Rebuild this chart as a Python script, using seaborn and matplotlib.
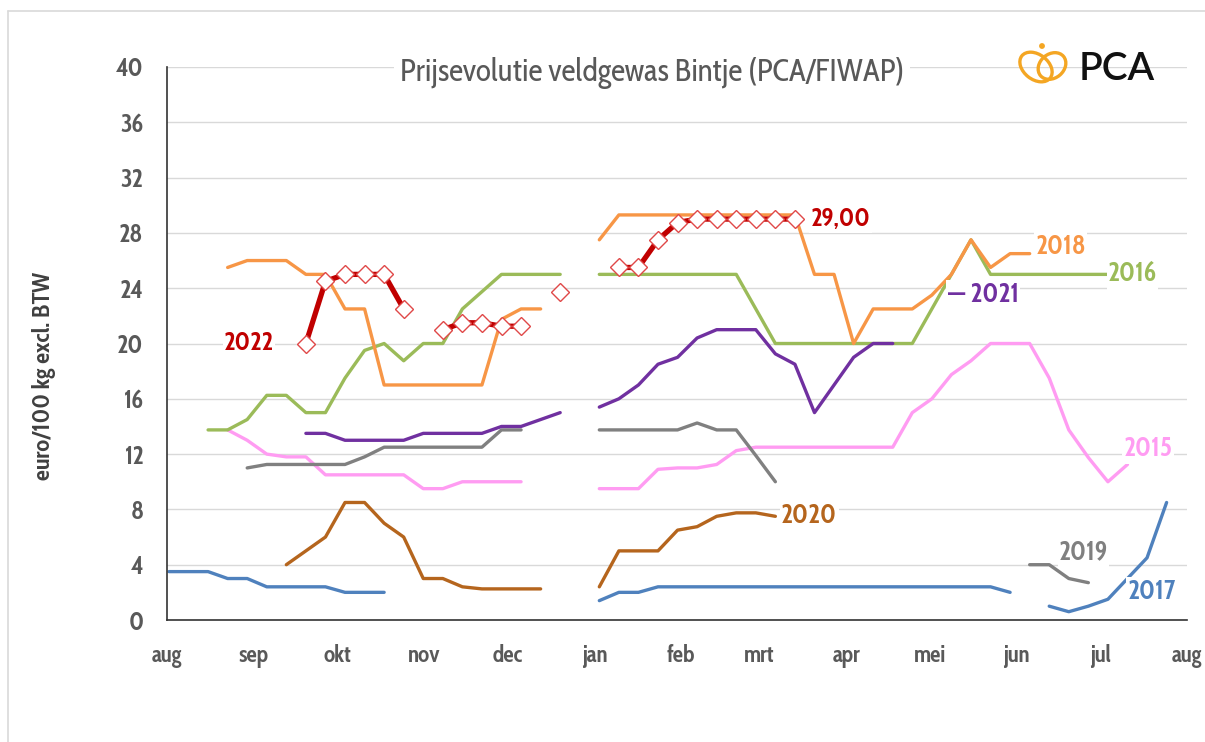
import numpy as np
import pandas as pd
import matplotlib
matplotlib.use("Agg")
import matplotlib.pyplot as plt
import seaborn as sns
from matplotlib.patches import Ellipse, Circle
from matplotlib.lines import Line2D
from matplotlib import font_manager as fm

N = None
months = ['aug', 'sep', 'okt', 'nov', 'dec', 'jan', 'feb', 'mrt', 'apr', 'mei', 'jun', 'jul', 'aug']
month_days = [31, 30, 31, 30, 31, 31, 28, 31, 30, 31, 30, 31]
yticks = list(range(0, 41, 4))

# weekly prices (week index from 1 August), None = no quotation
start_2015 = 3
p2015 = [13.75, 13, 12, 11.8, 11.8, 10.5, 10.5, 10.5, 10.5, 10.5, 9.5, 9.5, 10, 10, 10, 10,
         N, N, N, 9.5, 9.5, 9.5, 10.9, 11, 11, 11.25, 12.25, 12.5, 12.5, 12.5, 12.5, 12.5, 12.5,
         12.5, 12.5, 15, 16, 17.75, 18.75, 20, 20, 20, 17.5, 13.75, 11.75, 10, 11.25]
start_2016 = 2
p2016 = [13.75, 13.75, 14.5, 16.25, 16.25, 15, 15, 17.5, 19.5, 20, 18.75, 20, 20, 22.5, 23.75,
         25, 25, 25, 25, N, 25, 25, 25, 25, 25, 25, 25, 25, 22.5, 20, 20, 20, 20, 20, 20, 20, 20,
         22.5, 25, 27.5, 25, 25, 25, 25, 25, 25, 25]
start_2017 = 0
p2017 = [3.5, 3.5, 3.5, 3.0, 3.0, 2.4, 2.4, 2.4, 2.4, 2.0, 2.0, 2.0,
         N, N, N, N, N, N, N, N, N, N,
         1.4, 2.0, 2.0, 2.4, 2.4, 2.4, 2.4, 2.4, 2.4, 2.4, 2.4, 2.4, 2.4, 2.4, 2.4, 2.4, 2.4,
         2.4, 2.4, 2.4, 2.4, 2.0, N, 1.0, 0.6, 1.0, 1.5, 3.0, 4.5, 8.5]
start_2018 = 3
p2018 = [25.5, 26, 26, 26, 25, 25, 22.5, 22.5, 17, 17, 17, 17, 17, 17, 21.75, 22.5, 22.5, N, N,
         27.5, 29.3, 29.3, 29.3, 29.3, 29.3, 29.3, 29.3, 29.3, 29.3, 29.3, 25, 25, 20, 22.5, 22.5,
         22.5, 23.5, 25, 27.5, 25.5, 26.5, 26.5]
start_2019 = 4
p2019 = [11, 11.25, 11.25, 11.25, 11.25, 11.25, 11.8, 12.5, 12.5, 12.5, 12.5, 12.5, 12.5, 13.75,
         13.75, N, N, N, 13.75, 13.75, 13.75, 13.75, 13.75, 14.25, 13.75, 13.75, 11.9, 10,
         N, N, N, N, N, N, N, N, N, N, N, N, 4.0, 4.0, 3.0, 2.7]
start_2020 = 6
p2020 = [4, 5, 6, 8.5, 8.5, 7, 6, 3, 3, 2.4, 2.25, 2.25, 2.25, 2.25, N, N,
         2.4, 5, 5, 5, 6.5, 6.75, 7.5, 7.75, 7.75, 7.5]
start_2021 = 7
p2021 = [13.5, 13.5, 13, 13, 13, 13, 13.5, 13.5, 13.5, 13.5, 14, 14, 14.5, 15, N,
         15.4, 16, 17, 18.5, 19, 20.4, 21, 21, 21, 19.25, 18.5, 15, 17, 19, 20, 20]
start_2022 = 7
p2022 = [20, 24.5, 25, 25, 25, 22.5, N, 21, 21.5, 21.5, 21.25, 21.25, N, 23.75, N, N,
         25.5, 25.5, 27.5, 28.75, 29, 29, 29, 29, 29, 29]

series = {
    '2015': (start_2015, p2015), '2016': (start_2016, p2016), '2017': (start_2017, p2017),
    '2018': (start_2018, p2018), '2019': (start_2019, p2019), '2020': (start_2020, p2020),
    '2021': (start_2021, p2021), '2022': (start_2022, p2022),
}
palette = {'2015': '#FF9CF2', '2016': '#9BBB59', '2017': '#4F81BD', '2018': '#F79646',
           '2019': '#808080', '2020': '#B5651D', '2021': '#7030A0', '2022': '#C00000'}

rows = []
for year, (start, vals) in series.items():
    seg = 0
    for i, v in enumerate(vals):
        if v is None:
            seg += 1
            continue
        rows.append(dict(week=start + i, price=v, year=year, seg=f'{year}-{seg}'))
df = pd.DataFrame(rows)

installed = {f.name for f in fm.fontManager.ttflist}
def pick(cands):
    for c in cands:
        if c in installed:
            return c
    return 'DejaVu Sans'

COND = pick(['Cabin Condensed', 'Fira Sans Condensed', 'PT Sans Narrow', 'Roboto Condensed',
             'Encode Sans Condensed', 'Open Sans Condensed', 'IBM Plex Sans Condensed',
             'Liberation Sans Narrow'])
LOGO = pick(['Lato', 'Inter', 'Montserrat'])

sns.set_style("white")
plt.rcParams['font.family'] = [COND, 'DejaVu Sans']

W, H = 1205, 742
fig = plt.figure(figsize=(W / 100, H / 100), dpi=100)
ax = fig.add_axes([167 / W, 1 - 620 / H, 1020 / W, 553 / H])

order = ['2015', '2016', '2017', '2018', '2019', '2020', '2021']
sns.lineplot(data=df[df.year.isin(order)], x='week', y='price', hue='year', hue_order=order,
             units='seg', estimator=None, palette=palette, linewidth=2.4, legend=False,
             sort=False, ax=ax)
sns.lineplot(data=df[df.year == '2022'], x='week', y='price', units='seg', estimator=None,
             color=palette['2022'], linewidth=3.8, marker='D', markersize=9,
             markerfacecolor='white', markeredgecolor='#E04848', markeredgewidth=1.0,
             legend=False, sort=False, ax=ax)

# axes styling
xticks = np.concatenate([[0], np.cumsum(month_days)]) / 7 - 0.1
ax.set_xlim(xticks[0], xticks[-1])
ax.set_ylim(0, 40)
ax.set_xticks(xticks)
ax.set_xticklabels(months)
ax.set_yticks(yticks)
ax.yaxis.grid(True, color='#D9D9D9', linewidth=1.0)
ax.xaxis.grid(False)
ax.set_axisbelow(True)
for s in ['top', 'right']:
    ax.spines[s].set_visible(False)
for s in ['left', 'bottom']:
    ax.spines[s].set_color('#333333')
    ax.spines[s].set_linewidth(1.2)
ax.tick_params(axis='both', direction='out', length=8, width=1.2, color='#333333',
               labelcolor='#595959')
ax.tick_params(axis='x', labelsize=16.5, pad=9)
ax.tick_params(axis='y', labelsize=18, pad=9)
for lab in ax.get_xticklabels() + ax.get_yticklabels():
    lab.set_fontweight('bold')
ax.set_xlabel('')
ax.set_ylabel('euro/100 kg excl. BTW', fontsize=17.5, fontweight='bold', color='#404040')
ax.yaxis.set_label_coords(-0.109, 0.441)

# series labels
bb = dict(facecolor='white', edgecolor='none', pad=1)
lab_kw = dict(fontsize=19, fontweight='bold', va='center', bbox=bb)
ax.text(4.1, 20, '2022', color=palette['2022'], ha='center', **{**lab_kw, 'fontsize': 18.5})
ax.text(32.8, 29.0, '29,00', color=palette['2022'], ha='left', **{**lab_kw, 'fontsize': 18.5})
ax.text(44.3, 27.0, '2018', color=palette['2018'], ha='left', **lab_kw)
ax.text(48.0, 25.0, '2016', color=palette['2016'], ha='left', **lab_kw)
ax.text(39.8, 23.5, '— 2021', color=palette['2021'], ha='left', **lab_kw)
ax.text(48.8, 12.4, '2015', color=palette['2015'], ha='left', **lab_kw)
ax.text(31.3, 7.5, '2020', color=palette['2020'], ha='left', **lab_kw)
ax.text(45.5, 4.9, '2019', color=palette['2019'], ha='left', **lab_kw)
ax.text(49.0, 2.0, '2017', color=palette['2017'], ha='left', **lab_kw)

# title
fig.text(652 / W, 1 - 73 / H, 'Prijsevolutie veldgewas Bintje (PCA/FIWAP)', ha='center',
         va='center', fontsize=22.5, color='#595959',
         bbox=dict(facecolor='white', edgecolor='none', pad=4))

# outer frame (left and top)
fig.add_artist(Line2D([8 / W, 8 / W], [0, 1 - 11 / H], transform=fig.transFigure,
                      color='#D9D9D9', lw=1.2))
fig.add_artist(Line2D([8 / W, 1], [1 - 11 / H, 1 - 11 / H], transform=fig.transFigure,
                      color='#D9D9D9', lw=1.2))

# PCA logo
axl = fig.add_axes([1012 / W, 1 - 92 / H, 64 / W, 54 / H])
axl.set_xlim(1012, 1076)
axl.set_ylim(92, 38)
axl.axis('off')
gold = '#F4A623'
axl.add_patch(Ellipse((1036, 67), 36, 25, angle=38, fill=False, edgecolor=gold, lw=2.4))
axl.add_patch(Ellipse((1052, 66), 30, 24, angle=-40, fill=False, edgecolor=gold, lw=2.4))
axl.add_patch(Circle((1042, 46), 2.2, color=gold))
fig.text(1079 / W, 1 - 69 / H, 'PCA', ha='left', va='center', fontsize=28, fontweight='semibold',
         family=[LOGO, 'DejaVu Sans'], color='#111111')

fig.savefig('out.png', dpi=100)
